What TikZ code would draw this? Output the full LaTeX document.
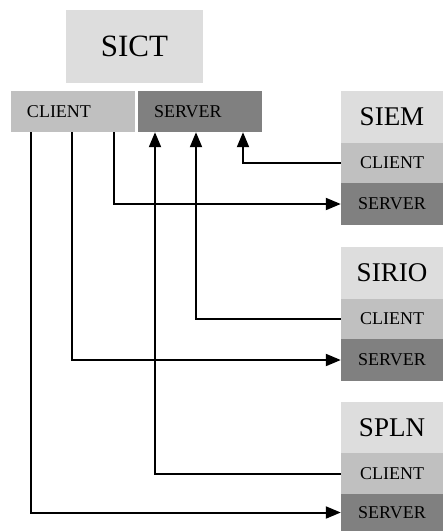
\documentclass[tikz,border=0pt]{standalone}
\usepackage{fontspec}
\setmainfont{Liberation Serif}
\usepackage{tikz}
\usetikzlibrary{arrows.meta,calc}
\definecolor{sys_light}{RGB}{221, 221, 221}
\definecolor{cli_gray}{RGB}{192, 192, 192}
\definecolor{srv_gray}{RGB}{128, 128, 128}
\tikzstyle{title}=[rectangle,fill=sys_light,inner sep=0pt,
  minimum width=102pt,minimum height=52pt,font=\fontsize{27}{27}\selectfont]
\tikzstyle{cli}=[rectangle,fill=cli_gray,inner sep=0pt,
  minimum width=102pt,minimum height=40pt,font=\fontsize{18}{18}\selectfont]
\tikzstyle{srv}=[rectangle,fill=srv_gray,inner sep=0pt,
  minimum width=102pt,minimum height=42pt,font=\fontsize{18}{18}\selectfont]
\tikzstyle{conn}=[line width=2pt,-{Triangle[length=15pt,width=12pt]}]
\tikzstyle{none}=[]

\begin{document}
\begin{tikzpicture}[x=1pt,y=-1pt]
            \useasboundingbox (0,0) rectangle (446,531);
            % central system
            \node [style=title,minimum width=137pt,minimum height=73pt,
                   font=\fontsize{31}{31}\selectfont] (sict) at (134.5, 46.5) {SICT};
            \node [style=cli,minimum width=124pt,minimum height=41pt,
                   text width=92pt,align=left] (client) at (73, 111.5) {CLIENT};
            \node [style=srv,minimum width=124pt,minimum height=41pt,
                   text width=92pt,align=left] (server) at (200, 111.5) {SERVER};
            % SIEM
            \node [style=title] (siem) at (392, 117) {SIEM};
            \node [style=cli] (siemcli) at (392, 163) {CLIENT};
            \node [style=srv] (siemsrv) at (392, 204) {SERVER};
            % SIRIO
            \node [style=title] (sirio) at (392, 273) {SIRIO};
            \node [style=cli] (siriocli) at (392, 319) {CLIENT};
            \node [style=srv] (siriosrv) at (392, 360) {SERVER};
            % SPLN
            \node [style=title,minimum height=51pt] (spln) at (392, 427.5) {SPLN};
            \node [style=cli,minimum height=41pt] (splncli) at (392, 473.5) {CLIENT};
            \node [style=srv,minimum height=37pt] (splnsrv) at (392, 512.5) {SERVER};
            \draw [style=conn] (siemcli.west) -| ([xshift=43pt]server.south);
            \draw [style=conn] ([xshift=41pt]client.south) |- (siemsrv.west);
            \draw [style=conn] (siriocli.west) -| ([xshift=-4pt]server.south);
            \draw [style=conn] ([xshift=-1pt]client.south) |- (siriosrv.west);
            \draw [style=conn] (splncli.west) -| ([xshift=-45pt]server.south);
            \draw [style=conn] ([xshift=-42pt]client.south) |- (splnsrv.west);
    \end{tikzpicture}
\end{document}
